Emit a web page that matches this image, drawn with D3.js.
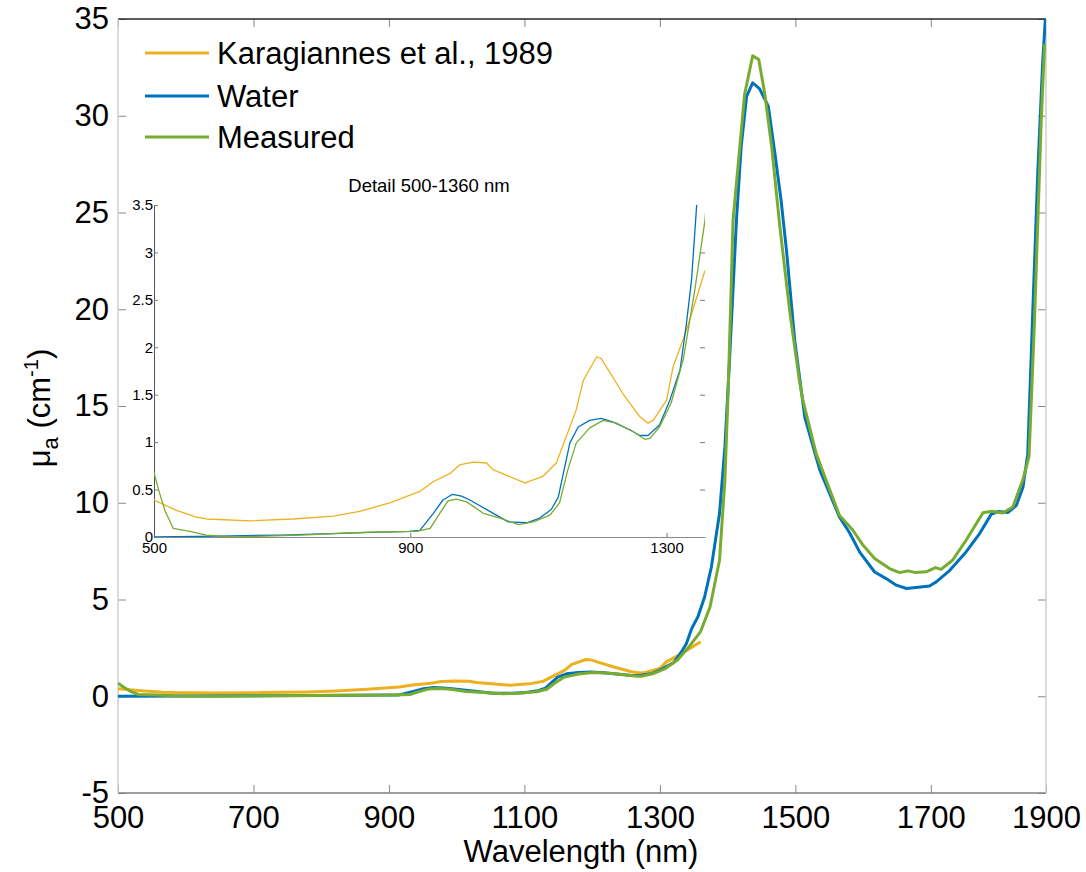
<!DOCTYPE html>
<html>
<head>
<meta charset="utf-8">
<script src="https://cdn.jsdelivr.net/npm/d3@7"></script>
<style>
  body { margin: 0; background: #fff; }
  svg { font-family: "Liberation Sans", Arial, sans-serif; }
</style>
</head>
<body>
<svg id="chart" width="1086" height="872"></svg>
<script>
"use strict";

// wavelength (nm) / absorption (cm^-1)
var karagWl = [500, 535, 566, 582, 650, 717, 780, 821, 868, 915, 935, 962, 977, 998, 1019, 1029, 1079, 1107, 1128, 1159, 1170, 1191, 1198, 1211, 1232, 1258, 1271, 1279, 1300, 1310, 1331, 1360];
var karagMua = [0.39, 0.28, 0.21, 0.19, 0.17, 0.19, 0.22, 0.27, 0.36, 0.48, 0.58, 0.67, 0.76, 0.79, 0.78, 0.71, 0.57, 0.64, 0.78, 1.34, 1.65, 1.90, 1.88, 1.74, 1.51, 1.27, 1.20, 1.23, 1.44, 1.79, 2.18, 2.81];

var waterWl = [500, 600, 700, 800, 898, 915, 936, 951, 966, 980, 993, 1024, 1053, 1082, 1102, 1120, 1131, 1149, 1162, 1180, 1198, 1217, 1243, 1258, 1271, 1289, 1305, 1321, 1331, 1339, 1347, 1356, 1366, 1376, 1388, 1396, 1403, 1413, 1420, 1428, 1437, 1447, 1460, 1470, 1479, 1487, 1499, 1514, 1536, 1565, 1580, 1595, 1617, 1634, 1649, 1664, 1678, 1698, 1708, 1728, 1752, 1772, 1789, 1800, 1814, 1826, 1836, 1843, 1850, 1858, 1865, 1869];
var waterMua = [0, 0.01, 0.02, 0.04, 0.06, 0.07, 0.25, 0.39, 0.45, 0.43, 0.39, 0.27, 0.16, 0.15, 0.20, 0.29, 0.42, 0.99, 1.16, 1.23, 1.25, 1.21, 1.13, 1.07, 1.07, 1.18, 1.44, 1.76, 2.25, 2.71, 3.5, 4.10, 5.13, 6.68, 9.44, 12.9, 17.5, 24.6, 28.4, 31.0, 31.7, 31.4, 30.5, 28.0, 25.6, 23.0, 18.4, 14.4, 11.7, 9.27, 8.45, 7.45, 6.42, 6.08, 5.74, 5.57, 5.62, 5.70, 5.91, 6.51, 7.46, 8.41, 9.40, 9.55, 9.50, 9.85, 10.8, 12.5, 19.4, 27.2, 32.7, 35];

var measWl = [500, 507, 517, 530, 556, 582, 624, 728, 832, 910, 931, 946, 959, 972, 988, 1014, 1040, 1069, 1092, 1118, 1133, 1146, 1159, 1180, 1201, 1222, 1248, 1266, 1274, 1289, 1307, 1326, 1344, 1360, 1374, 1388, 1396, 1401, 1408, 1418, 1425, 1437, 1446, 1455, 1465, 1477, 1492, 1506, 1511, 1531, 1565, 1585, 1600, 1617, 1639, 1654, 1666, 1678, 1693, 1707, 1715, 1732, 1752, 1777, 1790, 1806, 1821, 1836, 1845, 1853, 1858, 1863, 1868];
var measMua = [0.68, 0.50, 0.28, 0.09, 0.06, 0.02, 0, 0.02, 0.05, 0.06, 0.09, 0.25, 0.38, 0.40, 0.37, 0.25, 0.20, 0.13, 0.16, 0.23, 0.36, 0.71, 0.99, 1.15, 1.23, 1.20, 1.11, 1.03, 1.04, 1.16, 1.41, 1.87, 2.60, 3.34, 4.61, 7.03, 11.2, 16.0, 24.6, 28.4, 31.1, 33.1, 32.9, 31.1, 28.4, 24.3, 19.8, 16.3, 15.3, 12.5, 9.35, 8.58, 7.80, 7.12, 6.60, 6.39, 6.48, 6.39, 6.43, 6.65, 6.56, 7.03, 8.06, 9.48, 9.56, 9.47, 9.78, 11.2, 12.4, 19.4, 24.6, 29.8, 33.7];

var seriesNames = ['Karagiannes et al., 1989', 'Water', 'Measured'];
var seriesColors = ['#EDB120', '#0072BD', '#77AC30'];

var xTickValues = [500, 700, 900, 1100, 1300, 1500, 1700, 1870];
var xTickLabels = ['500', '700', '900', '1100', '1300', '1500', '1700', '1900'];
var yTickValues = [-5, 0, 5, 10, 15, 20, 25, 30, 35];

var insetXTicks = [500, 900, 1300];
var insetYTicks = [0, 0.5, 1, 1.5, 2, 2.5, 3, 3.5];

function toPoints(wl, mua) {
    return wl.map(function (w, i) { return { wl: w, mua: mua[i] }; });
}
var series = [
    toPoints(karagWl, karagMua),
    toPoints(waterWl, waterMua),
    toPoints(measWl, measMua)
];
var plain = function (d) { return String(d); };
var FONT = '"Liberation Sans", Arial, sans-serif';

var svg = d3.select('#chart');

// ---- main axes ----
var mLeft = 118, mRight = 1046, mTop = 19, mBottom = 793;
var x = d3.scaleLinear().domain([500, 1870]).range([mLeft, mRight]);
var y = d3.scaleLinear().domain([-5, 35]).range([mBottom, mTop]);

var defs = svg.append('defs');
defs.append('clipPath').attr('id', 'clipMain')
    .append('rect').attr('x', mLeft).attr('y', mTop)
    .attr('width', mRight - mLeft).attr('height', mBottom - mTop);

var gXb = svg.append('g')
    .attr('transform', 'translate(0,' + mBottom + ')')
    .call(d3.axisBottom(x).tickValues(xTickValues)
        .tickFormat(function (d, i) { return xTickLabels[i]; })
        .tickSizeInner(-8).tickSizeOuter(0).tickPadding(13));
var gXt = svg.append('g')
    .attr('transform', 'translate(0,' + mTop + ')')
    .call(d3.axisTop(x).tickValues(xTickValues.slice(0, 7))
        .tickFormat('').tickSizeInner(-8).tickSizeOuter(0));
var gYl = svg.append('g')
    .attr('transform', 'translate(' + mLeft + ',0)')
    .call(d3.axisLeft(y).tickValues(yTickValues).tickFormat(plain)
        .tickSizeInner(-8).tickSizeOuter(0).tickPadding(9));
var gYr = svg.append('g')
    .attr('transform', 'translate(' + mRight + ',0)')
    .call(d3.axisRight(y).tickValues(yTickValues)
        .tickFormat('').tickSizeInner(-8).tickSizeOuter(0));

[gXb, gXt, gYl, gYr].forEach(function (g) {
    g.select('.domain').remove();
    g.selectAll('.tick line').attr('stroke', '#888');
    g.selectAll('.tick text').attr('font-size', 31).attr('fill', '#000')
        .attr('font-family', FONT);
});

// frame
svg.append('line').attr('x1', mLeft).attr('x2', mRight).attr('y1', mTop).attr('y2', mTop)
    .attr('stroke', '#262626').attr('stroke-width', 1.5);
svg.append('line').attr('x1', mLeft).attr('x2', mRight).attr('y1', mBottom).attr('y2', mBottom)
    .attr('stroke', '#808080').attr('stroke-width', 1.5);
svg.append('line').attr('x1', mLeft).attr('x2', mLeft).attr('y1', mTop).attr('y2', mBottom)
    .attr('stroke', '#cfcfcf').attr('stroke-width', 1.5);
svg.append('line').attr('x1', mRight).attr('x2', mRight).attr('y1', mTop).attr('y2', mBottom)
    .attr('stroke', '#cfcfcf').attr('stroke-width', 1.5);

var line = d3.line()
    .x(function (d) { return x(d.wl); })
    .y(function (d) { return y(d.mua); });

var plotG = svg.append('g').attr('clip-path', 'url(#clipMain)');
series.forEach(function (s, i) {
    plotG.append('path').datum(s).attr('d', line)
        .attr('fill', 'none').attr('stroke', seriesColors[i])
        .attr('stroke-width', 3).attr('stroke-linejoin', 'round');
});

// axis titles
svg.append('text').attr('x', 581).attr('y', 862).attr('text-anchor', 'middle')
    .attr('font-size', 31).text('Wavelength (nm)');

var yt = svg.append('text').attr('transform', 'translate(50,408) rotate(-90)')
    .attr('text-anchor', 'middle').attr('font-size', 31);
yt.append('tspan').text('\u03bc');
yt.append('tspan').attr('font-size', 22).attr('dy', 8).text('a');
yt.append('tspan').attr('dy', -8).text(' (cm');
yt.append('tspan').attr('font-size', 20).attr('dy', -12).text('-1');
yt.append('tspan').attr('dy', 12).text(')');

// legend
var legendG = svg.append('g');
var legendY = [53, 96, 137];
for (var i = 0; i < seriesNames.length; i++) {
    legendG.append('line').attr('x1', 145).attr('x2', 209)
        .attr('y1', legendY[i]).attr('y2', legendY[i])
        .attr('stroke', seriesColors[i]).attr('stroke-width', 3);
    legendG.append('text').attr('x', 217).attr('y', legendY[i] + 11)
        .attr('font-size', 31).text(seriesNames[i]);
}

// ---- inset ----
var iLeft = 154, iRight = 705, iTop = 205, iBottom = 537;
var xi = d3.scaleLinear().domain([500, 1360]).range([iLeft, iRight]);
var yi = d3.scaleLinear().domain([0, 3.5]).range([iBottom, iTop]);

defs.append('clipPath').attr('id', 'clipInset')
    .append('rect').attr('x', iLeft).attr('y', iTop)
    .attr('width', iRight - iLeft).attr('height', iBottom - iTop);

var giX = svg.append('g').attr('transform', 'translate(0,' + iBottom + ')')
    .call(d3.axisBottom(xi).tickValues(insetXTicks).tickFormat(plain)
        .tickSizeInner(-4).tickSizeOuter(0).tickPadding(5));
var giY = svg.append('g').attr('transform', 'translate(' + iLeft + ',0)')
    .call(d3.axisLeft(yi).tickValues(insetYTicks).tickFormat(plain)
        .tickSizeInner(-4).tickSizeOuter(0).tickPadding(1));
var giYr = svg.append('g').attr('transform', 'translate(' + iRight + ',0)')
    .call(d3.axisRight(yi).tickValues(insetYTicks.slice(1, 7)).tickFormat('')
        .tickSizeInner(-5).tickSizeOuter(0));
[giX, giY, giYr].forEach(function (g) {
    g.selectAll('.tick line').attr('stroke', '#777');
    g.selectAll('.tick text').attr('font-size', 15).attr('fill', '#000')
        .attr('font-family', FONT);
});
giX.select('.domain').attr('stroke', '#888');
giY.select('.domain').attr('stroke', '#555');
giYr.select('.domain').remove();

var iline = d3.line()
    .x(function (d) { return xi(d.wl); })
    .y(function (d) { return yi(d.mua); });

var insetG = svg.append('g').attr('clip-path', 'url(#clipInset)');
series.forEach(function (s, i) {
    insetG.append('path')
        .datum(s.filter(function (d) { return d.wl <= 1375; }))
        .attr('d', iline)
        .attr('fill', 'none').attr('stroke', seriesColors[i])
        .attr('stroke-width', 1.3).attr('stroke-linejoin', 'round');
});

svg.append('text').attr('x', 429).attr('y', 192).attr('text-anchor', 'middle')
    .attr('font-size', 18.5).text('Detail 500-1360 nm');
</script>
</body>
</html>
